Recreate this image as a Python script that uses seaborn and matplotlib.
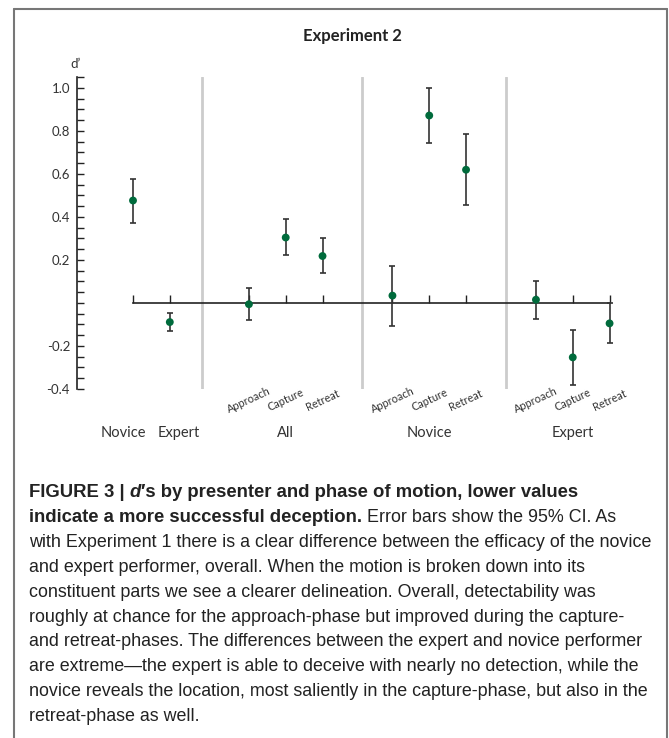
import numpy as np
import pandas as pd
import matplotlib
matplotlib.use("Agg")
import matplotlib.pyplot as plt
import seaborn as sns
from matplotlib.lines import Line2D
from matplotlib.text import Annotation
from matplotlib.ticker import FixedLocator, MultipleLocator

# values (d' with 95% CI)
group = ["", "", "All", "All", "All", "Novice", "Novice", "Novice", "Expert", "Expert", "Expert"]
condition = ["Novice", "Expert", "Approach", "Capture", "Retreat",
             "Approach", "Capture", "Retreat", "Approach", "Capture", "Retreat"]
d_prime = [0.476, -0.089, -0.006, 0.304, 0.218, 0.034, 0.871, 0.619, 0.015, -0.253, -0.095]
ci_low = [0.372, -0.129, -0.080, 0.221, 0.137, -0.107, 0.745, 0.453, -0.075, -0.382, -0.186]
ci_high = [0.576, -0.046, 0.068, 0.390, 0.304, 0.172, 1.001, 0.785, 0.100, -0.124, 0.0]

y_ticks = [-0.4, -0.2, 0.2, 0.4, 0.6, 0.8, 1.0]
y_ticklabels = ["-0.4", "-0.2", "0.2", "0.4", "0.6", "0.8", "1.0"]

caption_bold_1 = ["FIGURE 3 | ", "d", "\u2032s by presenter and phase of motion, lower values"]
caption_bold_2 = "indicate a more successful deception."
caption_rest_2 = " Error bars show the 95% CI. As"
caption_lines = [
    "with Experiment 1 there is a clear difference between the efficacy of the novice",
    "and expert performer, overall. When the motion is broken down into its",
    "constituent parts we see a clearer delineation. Overall, detectability was",
    "roughly at chance for the approach-phase but improved during the capture-",
    "and retreat-phases. The differences between the expert and novice performer",
    "are extreme\u2014the expert is able to deceive with nearly no detection, while the",
    "novice reveals the location, most saliently in the capture-phase, but also in the",
    "retreat-phase as well.",
]

# layout
group_start = {"": 0.0, "All": 3.15, "Novice": 7.05, "Expert": 10.95}
dividers = [1.88, 6.22, 10.14]

df = pd.DataFrame({"group": group, "condition": condition, "d": d_prime,
                   "lo": ci_low, "hi": ci_high})
df["idx"] = df.groupby("group", sort=False).cumcount()
df["pos"] = df["group"].map(group_start) + df["idx"]

sns.set_style("white")
plt.rcParams["font.family"] = ["Lato", "DejaVu Sans"]
plt.rcParams["axes.unicode_minus"] = False

W, H = 669, 738
fig = plt.figure(figsize=(W / 100, H / 100), dpi=100)
ax = fig.add_axes([77 / W, (H - 389) / H, (634 - 77) / W, 312 / H])
ax.patch.set_alpha(0)

for x in dividers:
    ax.axvline(x, color="#cccccc", lw=2, zorder=1)

ax.errorbar(df["pos"], df["d"], yerr=[df["d"] - df["lo"], df["hi"] - df["d"]],
            fmt="none", ecolor="#333333", elinewidth=1.2, capsize=2,
            capthick=1.2, zorder=3)
sns.scatterplot(data=df, x="pos", y="d", color="#006b3c", s=32,
                edgecolor="none", ax=ax, zorder=4, legend=False)

ax.set_xlim((77 - 133) / 36.8, (634 - 133) / 36.8)
ax.set_ylim(-0.4, 1.05)
ax.set_xlabel("")
ax.set_ylabel("")

ax.spines["top"].set_visible(False)
ax.spines["right"].set_visible(False)
ax.spines["left"].set_color("#222222")
ax.spines["left"].set_linewidth(1.2)
ax.spines["bottom"].set_position(("data", 0))
ax.spines["bottom"].set_bounds(df["pos"].min(), df["pos"].max())
ax.spines["bottom"].set_color("#222222")
ax.spines["bottom"].set_linewidth(1.2)

ax.yaxis.set_major_locator(FixedLocator(y_ticks))
ax.yaxis.set_minor_locator(MultipleLocator(0.05))
ax.set_yticklabels(y_ticklabels)
ax.tick_params(axis="y", which="both", left=True, direction="in", length=5,
               width=1, color="#222222", labelcolor="#333333", labelsize=9.5, pad=5)
ax.set_xticks(df["pos"])
ax.tick_params(axis="x", bottom=True, direction="in", length=6, width=1,
               color="#222222", labelbottom=False)

# category labels
for _, r in df.iterrows():
    if r["group"] == "":
        shift = -0.27 if r["condition"] == "Novice" else 0.23
        ax.text(r["pos"] + shift, -0.605, r["condition"], ha="center", va="center",
                fontsize=10.5, color="#333333", clip_on=False)
    else:
        ax.text(r["pos"], -0.452, r["condition"], ha="center", va="center",
                rotation=25, fontsize=7.8, color="#333333", clip_on=False)
for g, start in group_start.items():
    if g:
        ax.text(start + 1, -0.605, g, ha="center", va="center", fontsize=10.5,
                color="#333333", clip_on=False)

fig.text(352 / W, 1 - 36 / H, "Experiment 2", ha="center", va="center",
         fontsize=12, weight="bold", color="#222222")
fig.text(76 / W, 1 - 64 / H, "d\u2019", ha="center", va="center",
         fontsize=9.5, color="#333333")

# frame
frame_kw = dict(color="#777777", lw=1.5, transform=fig.transFigure)
fig.add_artist(Line2D([14 / W, 14 / W], [0, 1 - 9 / H], **frame_kw))
fig.add_artist(Line2D([14 / W, 667 / W], [1 - 9 / H, 1 - 9 / H], **frame_kw))
fig.add_artist(Line2D([667 / W, 667 / W], [0, 1 - 9 / H], **frame_kw))

# caption
cap_font = ["Liberation Sans", "DejaVu Sans"]
cap_size = 12.9
bold_size = 13.3
x0 = 29 / W
base0 = 497
step = 24.9


def after(prev, s, size=cap_size, **kw):
    a = Annotation(s, xy=(1, 0), xycoords=prev, va="bottom", ha="left",
                   family=cap_font, fontsize=size, color="#222222", **kw)
    fig.add_artist(a)
    return a


t = fig.text(x0, 1 - base0 / H, caption_bold_1[0], va="baseline",
             family=cap_font, fontsize=bold_size, weight="bold", color="#222222")
t = after(t, caption_bold_1[1], size=bold_size, weight="bold", style="italic")
t = after(t, caption_bold_1[2], size=bold_size, weight="bold")

t = fig.text(x0, 1 - (base0 + step) / H, caption_bold_2, va="baseline",
             family=cap_font, fontsize=bold_size, weight="bold", color="#222222")
after(t, caption_rest_2)

for i, line in enumerate(caption_lines):
    fig.text(x0, 1 - (base0 + step * (i + 2)) / H, line, va="baseline",
             family=cap_font, fontsize=cap_size, color="#222222")

fig.savefig("out.png", dpi=100)
